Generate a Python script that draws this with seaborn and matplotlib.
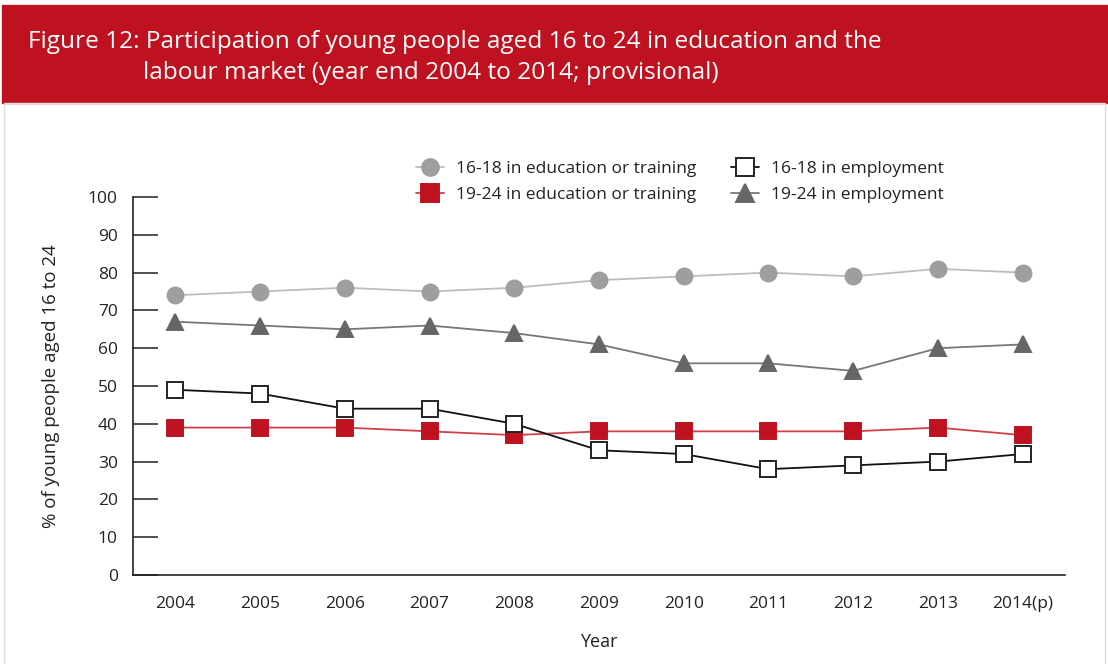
import matplotlib.pyplot as plt
import matplotlib.patches as mpatches
from matplotlib.lines import Line2D
import pandas as pd
import seaborn as sns

years = ["2004", "2005", "2006", "2007", "2008", "2009", "2010", "2011", "2012", "2013", "2014(p)"]
edu_16_18 = [74, 75, 76, 75, 76, 78, 79, 80, 79, 81, 80]
edu_19_24 = [39, 39, 39, 38, 37, 38, 38, 38, 38, 39, 37]
emp_16_18 = [49, 48, 44, 44, 40, 33, 32, 28, 29, 30, 32]
emp_19_24 = [67, 66, 65, 66, 64, 61, 56, 56, 54, 60, 61]

labels = ["16-18 in education or training", "19-24 in education or training",
          "16-18 in employment", "19-24 in employment"]
values = [edu_16_18, edu_19_24, emp_16_18, emp_19_24]

rows = []
for lab, vals in zip(labels, values):
    for i, v in enumerate(vals):
        rows.append({"series": lab, "pos": i, "value": v})
df = pd.DataFrame(rows)

sns.set_theme(style="white")
plt.rcParams["font.family"] = ["Open Sans", "DejaVu Sans"]

red = "#be1220"
styles = {
    labels[0]: dict(marker="o", color="#bdbdbd", mfc="#9e9e9e", mec="#9e9e9e", ms=11.5),
    labels[1]: dict(marker="s", color="#d0404a", mfc=red, mec=red, ms=12),
    labels[2]: dict(marker="s", color="#111111", mfc="white", mec="#222222", ms=12),
    labels[3]: dict(marker="^", color="#777777", mfc="#666666", mec="#666666", ms=12),
}

fig = plt.figure(figsize=(11.08, 6.64), dpi=100)
ax = fig.add_axes([133 / 1108, 1 - 575 / 664, (1065 - 133) / 1108, (575 - 197) / 664])

handles = []
for lab in labels:
    st = styles[lab]
    sub = df[df["series"] == lab]
    sns.lineplot(data=sub, x="pos", y="value", ax=ax, color=st["color"], linewidth=1.3,
                 marker=st["marker"], markersize=st["ms"], markerfacecolor=st["mfc"],
                 markeredgecolor=st["mec"], markeredgewidth=1.4, legend=False)
    handles.append(Line2D([], [], color=st["color"], linewidth=1.3, marker=st["marker"],
                          markersize=st["ms"] * 1.05, markerfacecolor=st["mfc"],
                          markeredgecolor=st["mec"], markeredgewidth=1.4))

ax.set_xlim(-0.5, len(years) - 0.5)
ax.set_ylim(0, 100)
ax.set_yticks(range(0, 101, 10))
ax.set_xticks(range(len(years)))
ax.set_xticklabels(years)
ax.set_xticks([i + 0.5 for i in range(len(years))], minor=True)
ax.tick_params(axis="x", which="major", length=0, pad=15, labelsize=12.5, colors="#222222")
ax.tick_params(axis="x", which="minor", direction="in", length=7, width=1, color="#333333")
ax.tick_params(axis="y", direction="in", length=18, width=1.2, color="#333333",
               labelsize=12.5, labelcolor="#222222", pad=11, left=True)
for side in ["top", "right"]:
    ax.spines[side].set_visible(False)
for side in ["left", "bottom"]:
    ax.spines[side].set_color("#222222")
    ax.spines[side].set_linewidth(1.2)
ax.set_xlabel("Year", fontsize=13, color="#222222", labelpad=15)
ax.set_ylabel("% of young people aged 16 to 24", fontsize=13.5, color="#222222", labelpad=20)

fig.legend(handles, labels, ncol=2, loc="center", bbox_to_anchor=(680 / 1108, 1 - 182 / 664),
           frameon=False, fontsize=12.5, columnspacing=2.0, handlelength=1.6,
           handletextpad=0.7, labelspacing=0.55, labelcolor="#222222")

# header band
fig.patches.append(mpatches.Rectangle((2 / 1108, 1 - 103 / 664), 1, 98 / 664,
                                      transform=fig.transFigure, color=red, zorder=0))
fig.patches.append(mpatches.Rectangle((4 / 1108, -0.01), 1101 / 1108, 1 - 103 / 664 + 0.01,
                                      transform=fig.transFigure, fill=False,
                                      edgecolor="#dddddd", linewidth=1, zorder=0))
fig.text(28 / 1108, 1 - 42 / 664,
         "Figure 12: Participation of young people aged 16 to 24 in education and the",
         color="white", fontsize=17.6, va="center", ha="left")
fig.text(143 / 1108, 1 - 73 / 664, "labour market (year end 2004 to 2014; provisional)",
         color="white", fontsize=17.6, va="center", ha="left")

fig.savefig("out.png", dpi=100)
